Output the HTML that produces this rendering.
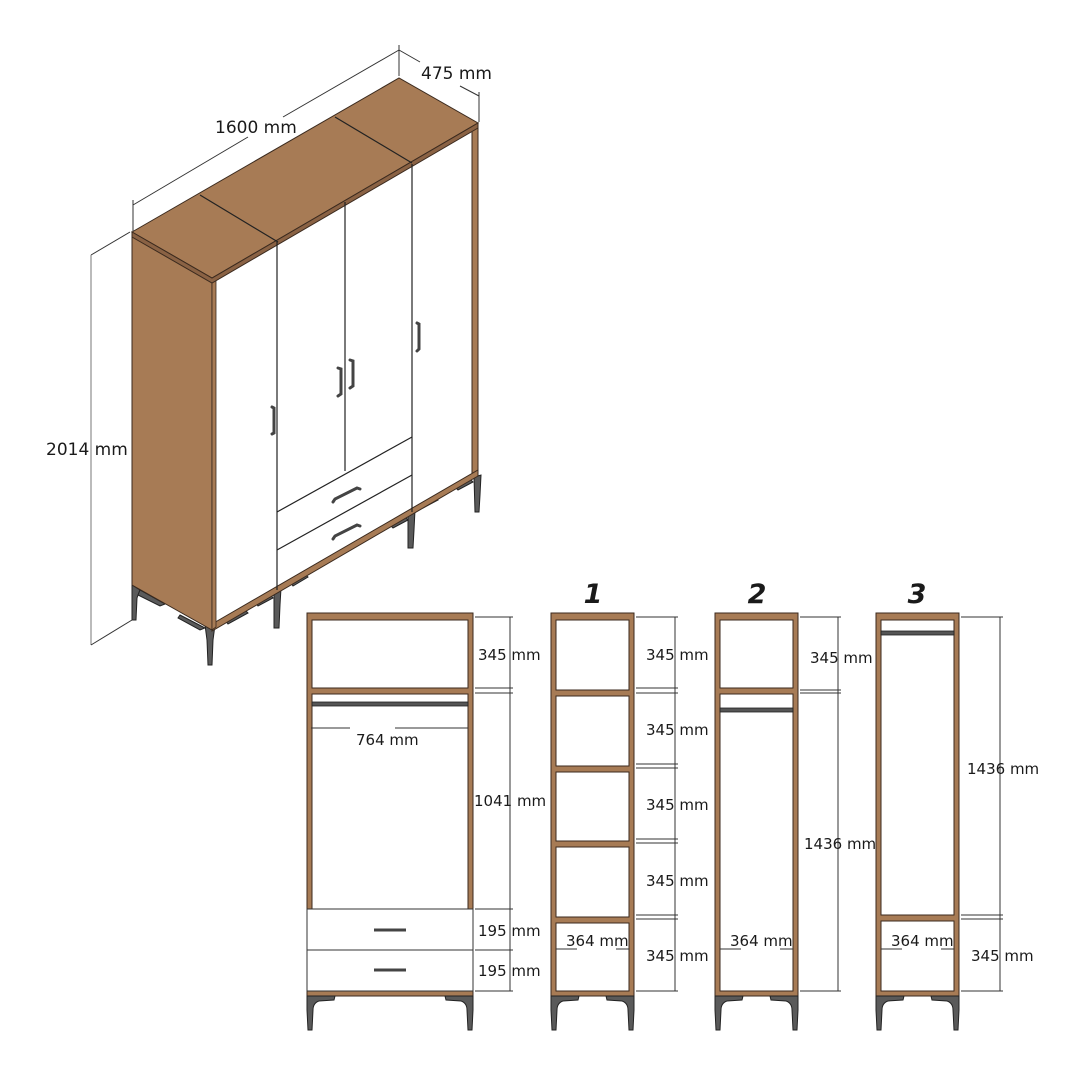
<!DOCTYPE html>
<html><head><meta charset="utf-8"><style>
html,body{margin:0;padding:0;background:#fff}
svg{display:block}
text{font-family:"DejaVu Sans","Liberation Sans",sans-serif;fill:#1a1a1a}
</style></head><body>
<svg width="1080" height="1080" viewBox="0 0 1080 1080" xmlns="http://www.w3.org/2000/svg">
<defs>
<g id="legL"><path d="M0,0 L28,0 L27,4 L12,5 Q6,7 6,14 L5,34 L1,34 L0,14 Z" fill="#5a5a5a" stroke="#222" stroke-width="1"/></g>
</defs>
<!-- ISO dimension lines -->
<g stroke="#333" stroke-width="1" fill="none">
<line x1="133" y1="232" x2="133" y2="200"/>
<line x1="399" y1="76" x2="399" y2="45"/>
<line x1="133" y1="205" x2="248" y2="137"/>
<line x1="283" y1="117" x2="399" y2="50"/>
<line x1="399" y1="50" x2="420" y2="62"/>
<line x1="460" y1="86" x2="479" y2="96"/>
<line x1="479" y1="92" x2="479" y2="122"/>
<line x1="91" y1="255" x2="91" y2="645" stroke="#777"/>
<line x1="91" y1="255" x2="130" y2="232"/>
<line x1="91" y1="645" x2="132" y2="620"/>
</g>
<text x="215" y="133" font-size="17">1600 mm</text>
<text x="421" y="79" font-size="17">475 mm</text>
<text x="46" y="455" font-size="17">2014 mm</text>
<!-- legs iso -->
<g fill="#5a5a5a" stroke="#222" stroke-width="1">
<path d="M132,585 L140,590 L137,598 L136,620 L132,620 Z"/>
<path d="M205,625 L215,625 L213,640 L212,665 L208,665 L207,640 Z"/>
<path d="M274,590 L281,588 L280,605 L279,628 L274,628 Z"/>
<path d="M408,512 L415,510 L414,530 L413,548 L408,548 Z"/>
<path d="M474,477 L481,475 L480,495 L479,512 L475,512 Z"/>
<path d="M140,590 L165,604 L160,606 L138,595 Z"/>
<path d="M180,615 L205,628 L200,630 L178,618 Z"/>
<path d="M225,620 L245,610 L248,613 L228,624 Z"/>
<path d="M255,602 L270,594 L273,598 L258,606 Z"/>
<path d="M290,582 L305,574 L308,577 L293,586 Z"/>
<path d="M390,525 L405,517 L408,520 L393,528 Z"/>
<path d="M420,505 L435,497 L438,500 L423,508 Z"/>
<path d="M455,487 L470,479 L473,482 L458,490 Z"/>
</g>
<!-- side -->
<polygon points="132,232 212,278 212,630 132,585" fill="#a77b55" stroke="#3b2a1e" stroke-width="1"/>
<!-- front -->
<polygon points="212,278 478,123 478,475 212,630" fill="#fff" stroke="#222" stroke-width="1"/>
<polygon points="472,127 478,123 478,475 472,478" fill="#a77b55" stroke="#3b2a1e" stroke-width="1"/>
<polygon points="212,624 478,470 478,476 212,631" fill="#a77b55" stroke="#3b2a1e" stroke-width="1"/>
<polygon points="212,278 216,276 216,627 212,630" fill="#a77b55" stroke="#3b2a1e" stroke-width="0.8"/>
<!-- top -->
<polygon points="132,232 399,78 478,123 212,278" fill="#a77b55" stroke="#3b2a1e" stroke-width="1"/>
<polygon points="132,232 212,278 478,123 478,128 212,283 132,237" fill="#8a6244" stroke="#3b2a1e" stroke-width="1"/>
<g stroke="#222" stroke-width="1.2" fill="none">
<line x1="200" y1="195" x2="278" y2="242"/>
<line x1="335" y1="117" x2="412" y2="163"/>
<line x1="277" y1="242" x2="277" y2="590"/>
<line x1="345" y1="202" x2="345" y2="471"/>
<line x1="412" y1="164" x2="412" y2="512"/>
<line x1="277" y1="512" x2="412" y2="437"/>
<line x1="277" y1="550" x2="412" y2="475"/>
</g>
<g stroke="#444" stroke-width="3" fill="none" stroke-linecap="round">
<path d="M272,407 L274,408 L274,433 L272,434"/>
<path d="M338,368 L341,369 L341,394 L338,396"/>
<path d="M350,360 L353,361 L353,386 L350,388"/>
<path d="M417,323 L419,324 L419,349 L417,351"/>
<path d="M333,502 L335,499 L357,488 L360,489"/>
<path d="M333,539 L335,536 L357,525 L360,526"/>
</g>
<!-- FRONT VIEWS -->
<g stroke="#3b2a1e" stroke-width="1">
<!-- A -->
<rect x="307" y="613" width="166" height="383" fill="#a77b55"/>
<rect x="312" y="620" width="156" height="68" fill="#fff"/>
<rect x="312" y="694" width="156" height="215" fill="#fff"/>
<rect x="307" y="909" width="166" height="41" fill="#fff" stroke="#333"/>
<rect x="307" y="950" width="166" height="41" fill="#fff" stroke="#333"/>
<!-- 1 -->
<rect x="551" y="613" width="83" height="383" fill="#a77b55"/>
<rect x="556" y="620" width="73" height="70" fill="#fff"/>
<rect x="556" y="696" width="73" height="70" fill="#fff"/>
<rect x="556" y="772" width="73" height="69" fill="#fff"/>
<rect x="556" y="847" width="73" height="70" fill="#fff"/>
<rect x="556" y="923" width="73" height="68" fill="#fff"/>
<!-- 2 -->
<rect x="715" y="613" width="83" height="383" fill="#a77b55"/>
<rect x="720" y="620" width="73" height="68" fill="#fff"/>
<rect x="720" y="694" width="73" height="297" fill="#fff"/>
<!-- 3 -->
<rect x="876" y="613" width="83" height="383" fill="#a77b55"/>
<rect x="881" y="620" width="73" height="295" fill="#fff"/>
<rect x="881" y="921" width="73" height="70" fill="#fff"/>
</g>
<g fill="#555" stroke="#222" stroke-width="0.8">
<rect x="312" y="702" width="156" height="4"/>
<rect x="720" y="708" width="73" height="4"/>
<rect x="881" y="631" width="73" height="4"/>
</g>
<g stroke="#444" stroke-width="3">
<line x1="374" y1="930" x2="406" y2="930"/>
<line x1="374" y1="970" x2="406" y2="970"/>
</g>
<!-- legs -->
<use href="#legL" x="307" y="996"/>
<use href="#legL" transform="translate(473,996) scale(-1,1)"/>
<use href="#legL" x="551" y="996"/>
<use href="#legL" transform="translate(634,996) scale(-1,1)"/>
<use href="#legL" x="715" y="996"/>
<use href="#legL" transform="translate(798,996) scale(-1,1)"/>
<use href="#legL" x="876" y="996"/>
<use href="#legL" transform="translate(959,996) scale(-1,1)"/>
<!-- dimension lines -->
<g stroke="#333" stroke-width="1" fill="none">
<line x1="510" y1="617" x2="510" y2="991"/>
<path d="M475,617 H513 M475,688 H513 M475,693 H513 M475,909 H513 M475,950 H513 M475,991 H513"/>
<line x1="311" y1="728" x2="350" y2="728"/><line x1="395" y1="728" x2="468" y2="728"/>
<line x1="675" y1="617" x2="675" y2="991"/>
<path d="M636,617 H678 M636,688 H678 M636,693 H678 M636,764 H678 M636,768 H678 M636,839 H678 M636,843 H678 M636,915 H678 M636,919 H678 M636,991 H678"/>
<line x1="556" y1="949" x2="577" y2="949"/><line x1="616" y1="949" x2="629" y2="949"/>
<line x1="838" y1="617" x2="838" y2="991"/>
<path d="M800,617 H841 M800,690 H841 M800,693 H841 M800,991 H841"/>
<line x1="720" y1="949" x2="741" y2="949"/><line x1="780" y1="949" x2="793" y2="949"/>
<line x1="1000" y1="617" x2="1000" y2="991"/>
<path d="M961,617 H1003 M961,915 H1003 M961,919 H1003 M961,991 H1003"/>
<line x1="881" y1="949" x2="902" y2="949"/><line x1="941" y1="949" x2="954" y2="949"/>
</g>
<g font-size="15">
<text x="478" y="660">345 mm</text>
<text x="474" y="806">1041 mm</text>
<text x="478" y="936">195 mm</text>
<text x="478" y="976">195 mm</text>
<text x="356" y="745">764 mm</text>
<text x="646" y="660">345 mm</text>
<text x="646" y="735">345 mm</text>
<text x="646" y="810">345 mm</text>
<text x="646" y="886">345 mm</text>
<text x="646" y="961">345 mm</text>
<text x="566" y="946">364 mm</text>
<text x="810" y="663">345 mm</text>
<text x="804" y="849">1436 mm</text>
<text x="730" y="946">364 mm</text>
<text x="967" y="774">1436 mm</text>
<text x="971" y="961">345 mm</text>
<text x="891" y="946">364 mm</text>
</g>
<g font-size="27" font-weight="bold" font-style="italic" text-anchor="middle">
<text x="593" y="603">1</text>
<text x="757" y="603">2</text>
<text x="917" y="603">3</text>
</g>
</svg>
</body></html>
